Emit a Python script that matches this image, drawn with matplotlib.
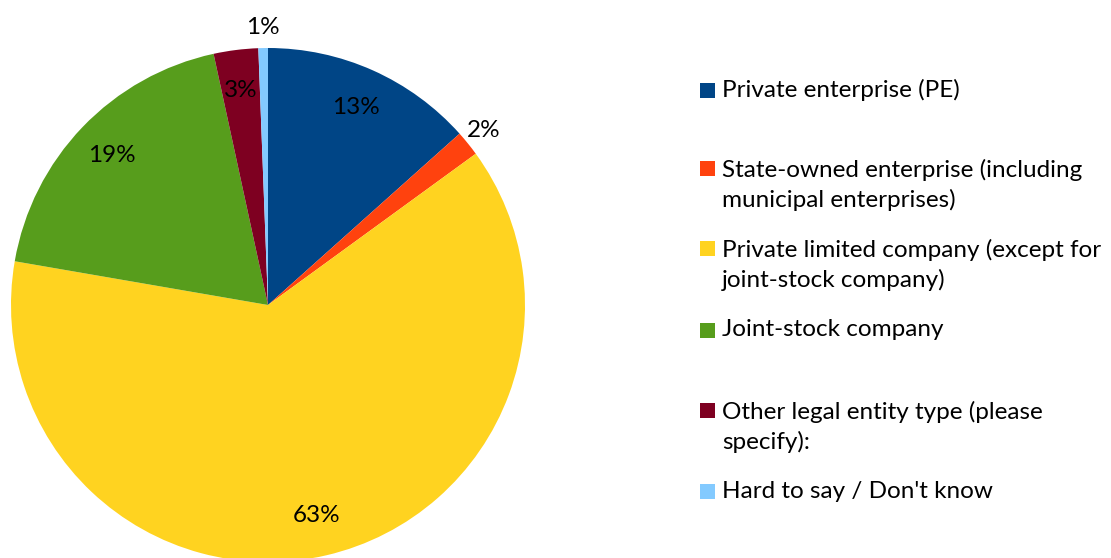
import numpy as np
import matplotlib
matplotlib.use("Agg")
import matplotlib.pyplot as plt
from matplotlib.patches import Rectangle

# Share of respondents by legal form of the company (%)
categories = [
    "Private enterprise (PE)",
    "State-owned enterprise (including\nmunicipal enterprises)",
    "Private limited company (except for\njoint-stock company)",
    "Joint-stock company",
    "Other legal entity type (please\nspecify):",
    "Hard to say / Don't know",
]
shares = [13.4, 1.6, 62.8, 18.9, 2.8, 0.6]
colors = ["#004586", "#FF420E", "#FFD320", "#579D1C", "#7E0021", "#83CAFF"]

FONT = "Lato"
FS = 17.5

W, H = 1111, 558
fig = plt.figure(figsize=(W / 100, H / 100), dpi=100)

# pie: centre (268, 305) px, radius 257 px
cx, cy, r = 268, 305, 257
ax = fig.add_axes([(cx - r) / W, (H - cy - r) / H, 2 * r / W, 2 * r / H])
wedges, _ = ax.pie(shares, colors=colors, startangle=90, counterclock=False,
                   radius=1.0, wedgeprops=dict(linewidth=0))
ax.set_xlim(-1, 1)
ax.set_ylim(-1, 1)
ax.set_aspect("equal")
ax.axis("off")

# percentage labels: inside for large slices, just outside for thin ones
for w, v in zip(wedges, shares):
    mid = np.deg2rad((w.theta1 + w.theta2) / 2)
    dist = 0.84 if v >= 2.5 else 1.08
    ax.text(dist * np.cos(mid), dist * np.sin(mid), f"{round(v)}%",
            ha="center", va="center", fontsize=FS, family=FONT, color="black")

# legend drawn at fixed positions on the right
rows = [90, 185, 265, 330, 427, 491]
for label, col, y in zip(categories, colors, rows):
    nlines = label.count("\n") + 1
    first_y = y - (nlines - 1) * 16.5
    fig.patches.append(Rectangle((700 / W, 1 - (first_y + 7.5) / H), 15 / W, 15 / H,
                                 transform=fig.transFigure, facecolor=col,
                                 edgecolor="none"))
    fig.text(722 / W, 1 - y / H, label, ha="left", va="center",
             fontsize=FS, family=FONT, linespacing=1.45, color="black")

fig.savefig("out.png", dpi=100)
